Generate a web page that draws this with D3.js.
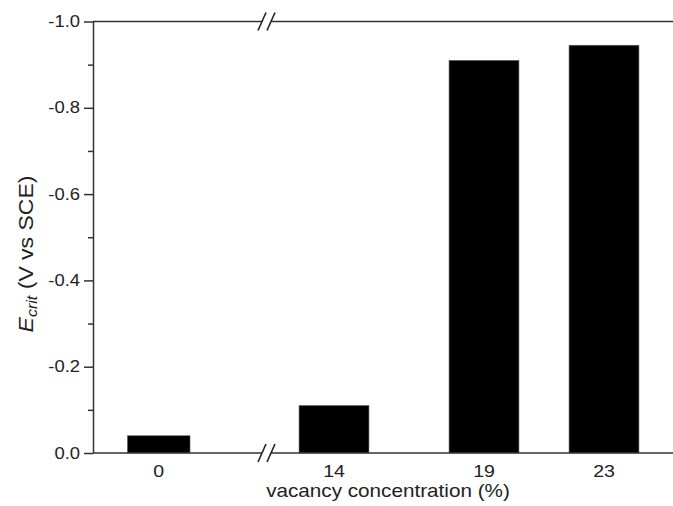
<!DOCTYPE html>
<html>
<head>
<meta charset="utf-8">
<script src="https://cdn.jsdelivr.net/npm/d3@7"></script>
<style>
  body { margin: 0; background: #fff; }
  svg { display: block; font-family: "Liberation Sans", Arial, sans-serif; }
</style>
</head>
<body>
<svg id="chart"></svg>
<script>
// data
const categories = [0, 14, 19, 23];            // vacancy concentration (%)
const ecrit = [-0.04, -0.11, -0.91, -0.945];    // V vs SCE
const yMajorTicks = [0, -0.2, -0.4, -0.6, -0.8, -1.0];
const yMinorTicks = [-0.1, -0.3, -0.5, -0.7, -0.9];

const width = 673, height = 506;
const plotLeft = 93, plotTop = 21.5, plotBottom = 453;
const axisColor = "#333", textColor = "#222";
const stretchX = 1.15;   // the original lettering is a bit wider than Arial

const svg = d3.select("#chart").attr("width", width).attr("height", height);

// broken x axis: one scale for "0", one for 14..23
const xL = d3.scaleLinear().domain([-2.1, 3.3]).range([plotLeft, 262]);
const xR = d3.scaleLinear().domain([11.9, 25.3]).range([271, 673]);
const xOf = v => v < 10 ? xL(v) : xR(v);
const widthOf = v => v < 10 ? xL(2) - xL(0) : xR(2.33) - xR(0);

const y = d3.scaleLinear().domain([0, -1]).range([plotBottom, plotTop]);

// bars
svg.append("g").selectAll("rect")
    .data(categories.map((c, i) => ({c, v: ecrit[i]})))
    .join("rect")
    .attr("x", d => xOf(d.c) - widthOf(d.c) / 2)
    .attr("width", d => widthOf(d.c))
    .attr("y", d => y(d.v))
    .attr("height", d => y(0) - y(d.v))
    .attr("fill", "#000")
    .attr("stroke", "#666")
    .attr("stroke-width", 0.6);

function stretch(sel, dx) {
    sel.each(function(){
        const t = d3.select(this);
        const x = dx !== undefined ? dx : +t.attr("x") || 0;
        const yy = +t.attr("y") || 0;
        t.attr("x", 0).attr("y", 0)
         .attr("transform", `translate(${x},${yy}) scale(${stretchX},1)`);
    });
}

// y axis
const yAxis = svg.append("g")
    .attr("transform", `translate(${plotLeft},0)`)
    .call(d3.axisLeft(y).tickValues(yMajorTicks).tickSize(9).tickSizeOuter(0)
        .tickPadding(5).tickFormat(d => d.toFixed(1)));
yAxis.select(".domain").attr("stroke", axisColor).attr("stroke-width", 1.5);
yAxis.selectAll(".tick line").attr("stroke", axisColor).attr("stroke-width", 1.5);
yAxis.selectAll(".tick text")
    .attr("fill", textColor).attr("font-size", 16)
    .attr("font-family", "Liberation Sans, Arial, sans-serif");
stretch(yAxis.selectAll(".tick text"), -13);

const yMinor = svg.append("g")
    .attr("transform", `translate(${plotLeft},0)`)
    .call(d3.axisLeft(y).tickValues(yMinorTicks).tickSize(5).tickSizeOuter(0).tickFormat(""));
yMinor.select(".domain").remove();
yMinor.selectAll(".tick line").attr("stroke", axisColor).attr("stroke-width", 1.5);

// bottom and top frame lines with break
const breakA = xL.range()[1], breakB = xR.range()[0];
[plotBottom, plotTop].forEach(yy => {
    svg.append("line").attr("x1", plotLeft).attr("x2", breakA).attr("y1", yy).attr("y2", yy)
        .attr("stroke", axisColor).attr("stroke-width", 1.5);
    svg.append("line").attr("x1", breakB).attr("x2", width + 5).attr("y1", yy).attr("y2", yy)
        .attr("stroke", axisColor).attr("stroke-width", 1.5);
    [breakA, breakB].forEach(bx => {
        svg.append("line")
            .attr("x1", bx - 4).attr("y1", yy + 9)
            .attr("x2", bx + 4).attr("y2", yy - 9)
            .attr("stroke", "#222").attr("stroke-width", 1.6);
    });
});

// x tick labels (no tick marks in the original)
svg.append("g").selectAll("text")
    .data(categories)
    .join("text")
    .attr("x", d => xOf(d))
    .attr("y", 477)
    .attr("text-anchor", "middle")
    .attr("font-size", 17)
    .attr("fill", textColor)
    .text(d => d)
    .call(stretch);

// axis titles
svg.append("text")
    .attr("x", 388).attr("y", 497)
    .attr("text-anchor", "middle")
    .attr("font-size", 18)
    .attr("fill", textColor)
    .text("vacancy concentration (%)")
    .call(stretch);

const yTitle = svg.append("text")
    .attr("transform", `translate(33,254) rotate(-90) scale(${stretchX},1)`)
    .attr("text-anchor", "middle")
    .attr("font-size", 20)
    .attr("fill", textColor);
yTitle.append("tspan").attr("font-style", "italic").text("E");
yTitle.append("tspan").attr("font-style", "italic").attr("font-size", 14).attr("dy", 4).text("crit");
yTitle.append("tspan").attr("dy", -4).text(" (V vs SCE)");
</script>
</body>
</html>
